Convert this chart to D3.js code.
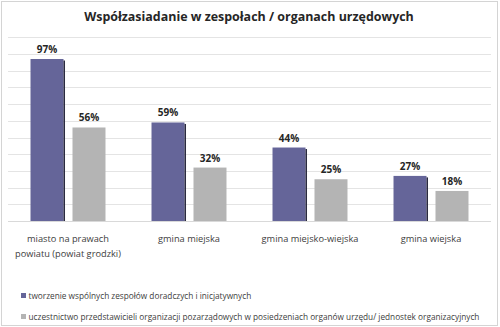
<!DOCTYPE html>
<html><head><meta charset="utf-8">
<script src="https://cdn.jsdelivr.net/npm/d3@7"></script>
<style>body{margin:0;background:#fff}svg{display:block}</style>
</head><body>
<svg id="c" width="500" height="327"></svg>
<script>
const title = "Współzasiadanie w zespołach / organach urzędowych";
const categories = [["miasto na prawach","powiatu (powiat grodzki)"],["gmina miejska"],["gmina miejsko-wiejska"],["gmina wiejska"]];
const seriesNames = ["tworzenie wspólnych zespołów doradczych i inicjatywnych",
  "uczestnictwo przedstawicieli organizacji pozarządowych w posiedzeniach organów urzędu/ jednostek organizacyjnych"];
const series1 = [0.97, 0.59, 0.44, 0.27];
const series2 = [0.56, 0.32, 0.25, 0.18];
const gridTicks = [0,0.1,0.2,0.3,0.4,0.5,0.6,0.7,0.8,0.9,1.0,1.1];
const colors = ["#656599","#b4b4b4"];

const svg = d3.select("#c");
const font = "'Open Sans', 'Liberation Sans', sans-serif";
svg.append("rect").attr("x",1.5).attr("y",1.5).attr("width",496).attr("height",324)
  .attr("fill","#fff").attr("stroke","#d4d4d4").attr("stroke-width",1);

const x = d3.scaleBand().domain(d3.range(categories.length)).range([7.5,491.5]);
const inner = d3.scaleBand().domain([0,1]).range([0,x.bandwidth()]).paddingInner(0.214).paddingOuter(0.548);
const y = d3.scaleLinear().domain([0,1.1]).range([221,37.3]);

svg.append("g").selectAll("line").data(gridTicks).join("line")
  .attr("x1",8).attr("x2",491).attr("y1",d=>Math.round(y(d))+0.5).attr("y2",d=>Math.round(y(d))+0.5)
  .attr("stroke",d=>d===0?"#d9d9d9":"#e4e4e4").attr("stroke-width",1);

function fitSize(node, target){ const w=node.getComputedTextLength(); const fs=parseFloat(d3.select(node).attr("font-size")); return fs*target/w; }

const tt = svg.append("text").attr("x",249).attr("y",21).attr("text-anchor","middle")
  .attr("font-family",font).attr("font-weight","bold").attr("font-size",14).attr("fill","#262626")
  .text(title);
tt.attr("font-size", fitSize(tt.node(),330));

[series1,series2].forEach((s,si)=>{
  const g = svg.append("g");
  g.selectAll("rect.bar").data(s).join("rect").attr("class","bar")
    .attr("x",(d,i)=>x(i)+inner(si)).attr("width",inner.bandwidth())
    .attr("y",d=>y(d)).attr("height",d=>y(0)-y(d)).attr("fill",colors[si]);
  if(si===0){
    g.selectAll("rect.sh").data(s).join("rect").attr("class","sh")
      .attr("x",(d,i)=>x(i)+inner(si)+inner.bandwidth()).attr("width",1.5)
      .attr("y",d=>y(d)+1.5).attr("height",d=>y(0)-y(d)-1.5).attr("fill","#2a2a40");
  }
  g.selectAll("text").data(s).join("text")
    .attr("x",(d,i)=>x(i)+inner(si)+inner.bandwidth()/2).attr("y",d=>y(d)-6)
    .attr("text-anchor","middle").attr("font-family",font).attr("font-weight","bold")
    .attr("font-size",10).attr("fill","#262626").text(d=>Math.round(d*100)+"%");
});

const lab = svg.append("g");
categories.forEach((lines,i)=>{
  lines.forEach((t,j)=>{
    lab.append("text").attr("x",x(i)+x.bandwidth()/2).attr("y",242+j*15)
      .attr("text-anchor","middle").attr("font-family",font).attr("font-size",10.5)
      .attr("fill","#404040").text(t);
  });
});
const pw = lab.selectAll("text").filter(function(){return this.textContent==="powiatu (powiat grodzki)";});
const labFs = fitSize(pw.node(),106);
lab.selectAll("text").attr("font-size",labFs);

const leg = svg.append("g");
seriesNames.forEach((n,i)=>{
  const yy = 296 + i*21;
  leg.append("rect").attr("x",21).attr("y",yy-3).attr("width",5).attr("height",5).attr("fill",colors[i]);
  leg.append("text").attr("x",28.5).attr("y",yy+3).attr("font-family",font).attr("font-size",8.5)
    .attr("fill","#404040").text(n);
});
const legFs = fitSize(leg.selectAll("text").nodes()[1],451);
leg.selectAll("text").attr("font-size",legFs);
</script>
</body></html>
